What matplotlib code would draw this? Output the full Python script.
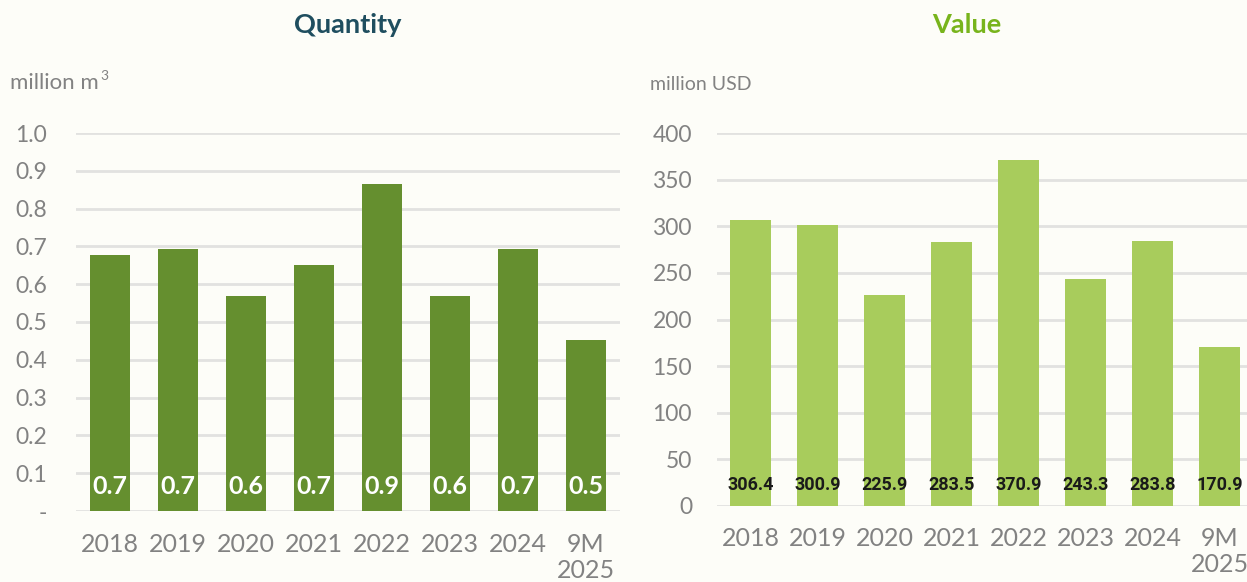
import matplotlib.pyplot as plt

years = ['2018', '2019', '2020', '2021', '2022', '2023', '2024', '9M\n2025']
quantity = [0.677, 0.693, 0.569, 0.651, 0.865, 0.569, 0.693, 0.452]
quantity_labels = ['0.7', '0.7', '0.6', '0.7', '0.9', '0.6', '0.7', '0.5']
value = [306.4, 300.9, 225.9, 283.5, 370.9, 243.3, 283.8, 170.9]

bg = '#fdfdf8'
grey = '#828282'
grid = '#e2e2e0'

plt.rcParams['font.family'] = ['Lato', 'DejaVu Sans']

W, H = 1247, 582
fig = plt.figure(figsize=(W / 100, H / 100), dpi=100, facecolor=bg)

def px_axes(x0, x1, y0, y1):
    # y0 = pixel row of bottom, y1 = pixel row of top
    return fig.add_axes([x0 / W, (H - y0) / H, (x1 - x0) / W, (y0 - y1) / H])

def style(ax):
    ax.set_facecolor(bg)
    for s in ax.spines.values():
        s.set_visible(False)
    ax.tick_params(length=0, colors=grey)
    ax.set_axisbelow(True)
    ax.yaxis.grid(True, color=grid, linewidth=2)
    ax.set_xlim(-0.5, len(years) - 0.5)
    ax.set_xticks(range(len(years)))
    ax.set_xticklabels(years, fontsize=18, color=grey, linespacing=1.15)

# left: quantity
ax1 = px_axes(76, 620, 511, 133)
style(ax1)
ax1.bar(range(len(years)), quantity, width=0.59, color='#658f2f', zorder=2)
ax1.set_ylim(0, 1.0)
ticks = [i / 10 for i in range(11)]
ax1.set_yticks(ticks)
ax1.set_yticklabels(['-'] + ['%.1f' % t for t in ticks[1:]], fontsize=16.5, color=grey)
ax1.tick_params(axis='y', pad=21)
ax1.tick_params(axis='x', pad=16)
for i, lab in enumerate(quantity_labels):
    ax1.text(i, 0.066, lab, ha='center', va='center', color='white',
             fontsize=18, fontweight='bold', zorder=3)

# right: value
ax2 = px_axes(717, 1253, 506, 133)
style(ax2)
ax2.bar(range(len(years)), value, width=0.61, color='#a8cc5c', zorder=2)
ax2.set_ylim(0, 400)
ax2.set_yticks(range(0, 401, 50))
ax2.set_yticklabels([str(t) for t in range(0, 401, 50)], fontsize=16.5, color=grey)
ax2.tick_params(axis='y', pad=18)
ax2.tick_params(axis='x', pad=15)
for i, v in enumerate(value):
    ax2.text(i, 22, '%.1f' % v, ha='center', va='center', color='#1a1a1a',
             fontsize=13, fontweight='bold', family=['Roboto', 'DejaVu Sans'], zorder=3)

fig.text(348 / W, 1 - 25 / H, 'Quantity', ha='center', va='center',
         fontsize=19.5, fontweight='bold', color='#1f4e5f')
fig.text(967 / W, 1 - 25 / H, 'Value', ha='center', va='center',
         fontsize=19.5, fontweight='bold', color='#78b41c')
fig.text(10 / W, 1 - 83 / H, 'million m', ha='left', va='center',
         fontsize=16, color=grey)
fig.text(100 / W, 1 - 76 / H, '3', ha='left', va='center',
         fontsize=10, color=grey)
fig.text(650 / W, 1 - 85 / H, 'million USD', ha='left', va='center',
         fontsize=14, color=grey)

fig.savefig('out.png', dpi=100, facecolor=bg)
